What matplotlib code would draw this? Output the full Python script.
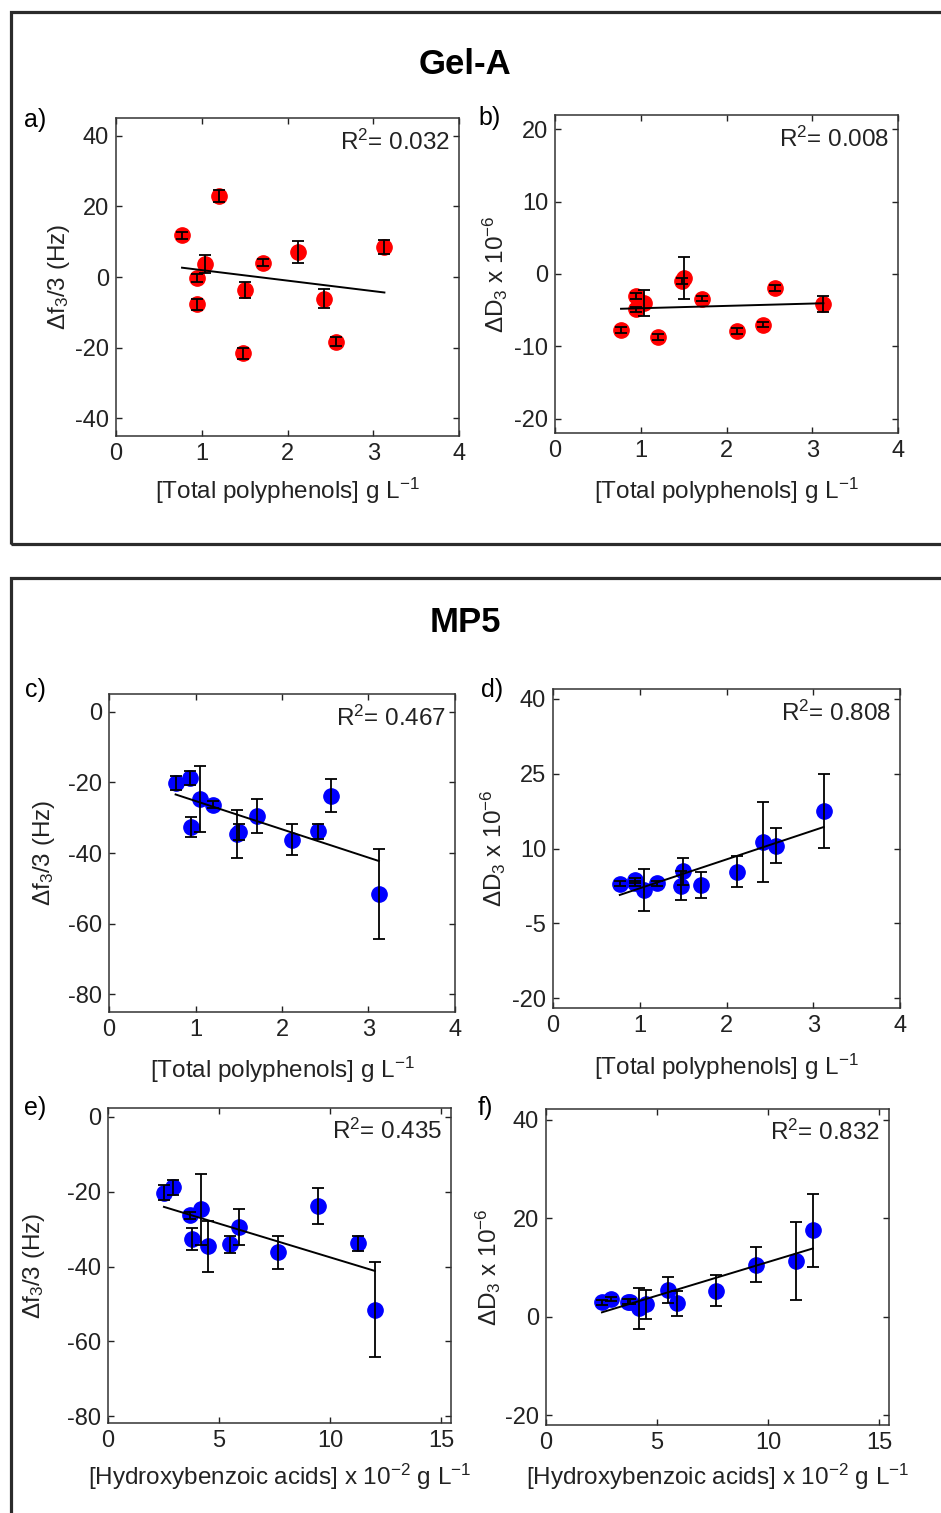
import numpy as np
import matplotlib
matplotlib.use("Agg")
import matplotlib.pyplot as plt
from matplotlib.patches import Rectangle

plt.rcParams['font.family'] = ['Liberation Sans', 'DejaVu Sans']
plt.rcParams['mathtext.fontset'] = 'custom'
plt.rcParams['mathtext.rm'] = 'Liberation Sans'
plt.rcParams['mathtext.default'] = 'regular'
plt.rcParams['axes.unicode_minus'] = False

# ---- Gel-A data ----
gel_poly = [0.77, 0.94, 0.945, 1.04, 1.20, 1.48, 1.50, 1.71, 2.12, 2.43, 2.57, 3.13]
gel_df = [11.8, -7.7, -0.3, 3.7, 22.8, -21.6, -3.7, 4.1, 7.1, -6.2, -18.3, 8.4]
gel_df_err = [1.0, 1.5, 1.1, 2.6, 1.7, 1.6, 2.3, 1.0, 3.2, 2.7, 1.3, 2.0]
gel_dD = [-7.8, -3.0, -4.9, -4.0, -8.7, -1.0, -0.6, -3.4, -7.9, -7.0, -1.9, -4.1]
gel_dD_err = [0.4, 0.4, 0.4, 1.8, 0.4, 0.4, 2.9, 0.4, 0.4, 0.4, 0.4, 1.1]

# ---- MP5 data ----
mp5_poly = [0.77, 0.94, 0.95, 1.05, 1.20, 1.48, 1.50, 1.71, 2.12, 2.42, 2.57, 3.12]
mp5_hba = [2.52, 2.95, 3.77, 4.17, 3.70, 4.52, 5.48, 5.88, 7.64, 11.24, 9.47, 12.02]
mp5_df = [-20.3, -18.8, -32.7, -24.7, -26.3, -34.6, -34.0, -29.4, -36.2, -33.8, -23.8, -51.5]
mp5_df_err = [2.0, 2.0, 2.9, 9.4, 1.0, 6.8, 2.3, 4.8, 4.5, 2.1, 4.7, 12.7]
mp5_dD = [2.9, 3.6, 3.0, 1.7, 3.0, 2.5, 5.4, 2.7, 5.3, 11.3, 10.6, 17.6]
mp5_dD_err = [0.5, 0.5, 0.5, 4.2, 0.5, 2.9, 2.7, 2.6, 3.1, 8.0, 3.5, 7.4]

r2_labels = ['0.032', '0.008', '0.467', '0.808', '0.435', '0.832']
panel_tags = ['a)', 'b)', 'c)', 'd)', 'e)', 'f)']

W, H = 941, 1513
fig = plt.figure(figsize=(W / 100, H / 100), dpi=100)


def px_box(l, t, r, b):
    return [l / W, 1 - b / H, (r - l) / W, (b - t) / H]


def panel(box, x, y, yerr, color, xlim, ylim, xticks, yticks, xlabel, ylabel, r2, ylab_x, xlab_y):
    ax = fig.add_axes(px_box(*box))
    ax.plot(x, y, 'o', color=color, markersize=11, zorder=2)
    ax.errorbar(x, y, yerr=yerr, fmt='none', ecolor='black', elinewidth=1.3,
                capsize=4.5, capthick=1.3, zorder=3)
    # least squares fit line over the data range
    m, b = np.polyfit(x, y, 1)
    xs = np.array([min(x), max(x)])
    ax.plot(xs, m * xs + b, color='black', linewidth=1.4, zorder=4)
    ax.set_xlim(*xlim)
    ax.set_ylim(*ylim)
    ax.set_xticks(xticks)
    ax.set_yticks(yticks)
    ax.tick_params(direction='in', top=True, right=True, length=4, width=1,
                   labelsize=17, pad=5, colors='#222222', labelcolor='#222222')
    for s in ax.spines.values():
        s.set_linewidth(1.1)
        s.set_color('#333333')
    ax.set_xlabel(xlabel, fontsize=17.5, color='#222222')
    ax.set_ylabel(ylabel, fontsize=17.5, color='#222222')
    ax.yaxis.set_label_coords(ylab_x, 0.5)
    ax.xaxis.set_label_coords(0.5, xlab_y)
    ax.text(0.975, 0.925, r'R$^2$= ' + r2, transform=ax.transAxes, ha='right',
            va='center', fontsize=17.5, color='#222222')
    return ax


xl_poly = r'[Total polyphenols] g L$^{-1}$'
xl_hba = r'[Hydroxybenzoic acids] x 10$^{-2}$ g L$^{-1}$'
yl_df = r'$\Delta$f$_3$/3 (Hz)'
yl_dD = r'$\Delta$D$_3$ x 10$^{-6}$'

panel((116, 118, 459, 436), gel_poly, gel_df, gel_df_err, 'red', (0, 4), (-45, 45),
      [0, 1, 2, 3, 4], [-40, -20, 0, 20, 40], xl_poly, yl_df, r2_labels[0], -0.128, -0.126)
panel((555, 115, 898, 433), gel_poly, gel_dD, gel_dD_err, 'red', (0, 4), (-22, 22),
      [0, 1, 2, 3, 4], [-20, -10, 0, 10, 20], xl_poly, yl_dD, r2_labels[1], -0.131, -0.135)
panel((109, 694, 455, 1012), mp5_poly, mp5_df, mp5_df_err, 'blue', (0, 4), (-85, 5),
      [0, 1, 2, 3, 4], [-80, -60, -40, -20, 0], xl_poly, yl_df, r2_labels[2], -0.150, -0.135)
panel((553, 689, 900, 1008), mp5_poly, mp5_dD, mp5_dD_err, 'blue', (0, 4), (-22, 42),
      [0, 1, 2, 3, 4], [-20, -5, 10, 25, 40], xl_poly, yl_dD, r2_labels[3], -0.130, -0.138)
panel((108, 1108, 451, 1423), mp5_hba, mp5_df, mp5_df_err, 'blue', (0, 15.45), (-81.8, 2.4),
      [0, 5, 10, 15], [-80, -60, -40, -20, 0], xl_hba, yl_df, r2_labels[4], -0.178, -0.124)
panel((546, 1109, 889, 1425), mp5_hba, mp5_dD, mp5_dD_err, 'blue', (0, 15.45), (-22, 42.2),
      [0, 5, 10, 15], [-20, 0, 20, 40], xl_hba, yl_dD, r2_labels[5], -0.125, -0.117)

# group frames
for (l, t, r, b) in [(11, 12, 960, 544), (11, 578, 960, 1530)]:
    fig.patches.append(Rectangle((l / W, 1 - b / H), (r - l) / W, (b - t) / H,
                                 transform=fig.transFigure, fill=False,
                                 edgecolor='#2b2b2b', linewidth=2.3))

fig.text(465 / W, 1 - 65 / H, 'Gel-A', fontsize=25, fontweight='bold', ha='center', va='center')
fig.text(465 / W, 1 - 622 / H, 'MP5', fontsize=25, fontweight='bold', ha='center', va='center')

tag_pos = [(35, 120), (490, 118), (35, 690), (492, 690), (35, 1108), (485, 1108)]
for tag, (tx, ty) in zip(panel_tags, tag_pos):
    fig.text(tx / W, 1 - ty / H, tag, fontsize=18, ha='center', va='center')

fig.savefig('out.png', dpi=100)
